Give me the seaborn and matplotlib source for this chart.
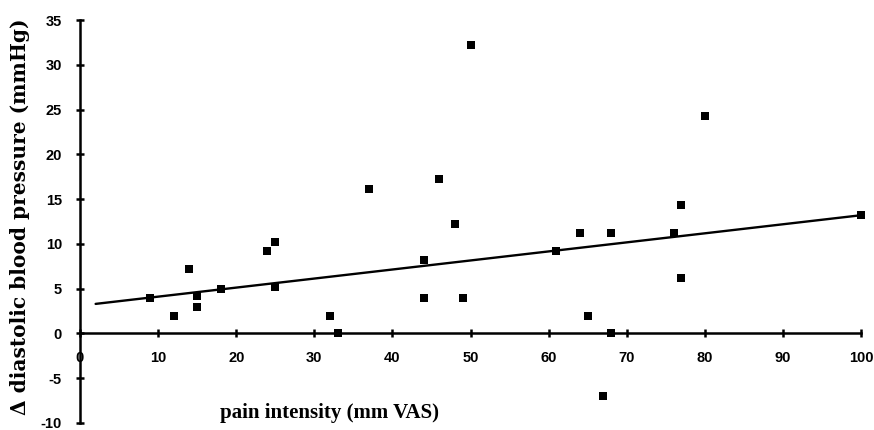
import matplotlib
matplotlib.use("Agg")
import matplotlib.pyplot as plt
import seaborn as sns
import pandas as pd

# data
pain = [9, 12, 14, 15, 15, 18, 24, 25, 25, 32, 33, 37, 44, 44, 46, 48, 49, 50,
        61, 64, 65, 67, 68, 68, 76, 77, 77, 80, 100]
dbp = [4, 2, 7.2, 4.2, 3, 5, 9.2, 10.2, 5.2, 2, 0, 16.1, 8.2, 4, 17.2, 12.2, 4, 32.2,
       9.2, 11.2, 2, -7, 11.2, 0, 11.2, 14.3, 6.2, 24.3, 13.2]
fit_x = [2, 100]
fit_y = [3.3, 13.2]
xticks = [0, 10, 20, 30, 40, 50, 60, 70, 80, 90, 100]
yticks = [-10, -5, 0, 5, 10, 15, 20, 25, 30, 35]

df = pd.DataFrame({"pain": pain, "dbp": dbp})
fit = pd.DataFrame({"x": fit_x, "y": fit_y})

sns.set_theme(style="ticks")
plt.rcParams['font.family'] = ['Liberation Sans', 'DejaVu Sans']
plt.rcParams['text.color'] = 'black'

fig = plt.figure(figsize=(8.74, 4.30), dpi=100)
ax = fig.add_axes([80/874, 1-423/430, (861-80)/874, 403/430])

sns.lineplot(data=fit, x="x", y="y", ax=ax, color="black", linewidth=1.7)
sns.scatterplot(data=df, x="pain", y="dbp", ax=ax, marker="s", s=26,
                color="black", edgecolor="black", linewidth=0)

ax.set_xlim(0, 100)
ax.set_ylim(-10, 35)
ax.spines['left'].set_position(('data', 0))
ax.spines['bottom'].set_position(('data', 0))
ax.spines['right'].set_visible(False)
ax.spines['top'].set_visible(False)
for s in ['left', 'bottom']:
    ax.spines[s].set_color('black')
    ax.spines[s].set_linewidth(1.8)
ax.set_xticks(xticks)
ax.set_yticks(yticks)
ax.set_xticklabels([str(t) for t in xticks])
ax.set_yticklabels([str(t) for t in yticks])
ax.tick_params(axis='both', which='major', bottom=True, left=True,
               direction='inout', length=6, width=1.8, colors='black',
               labelsize=10.5)
ax.tick_params(axis='x', pad=10)
ax.tick_params(axis='y', pad=10)
for lab in ax.get_xticklabels() + ax.get_yticklabels():
    lab.set_fontweight('bold')
for ln in ax.get_xticklines() + ax.get_yticklines():
    ln.set_clip_on(False)
for c in ax.collections:
    c.set_clip_on(False)

ax.set_xlabel("")
ax.set_ylabel("")
ax.text(32, -8.9, "pain intensity (mm VAS)", ha="center", va="center",
        fontsize=15, fontweight="bold", color="black",
        family=["Liberation Serif", "DejaVu Serif"])
fig.text(20/874, 1-217/430, "Δ diastolic blood pressure (mmHg)", rotation=90,
         ha="center", va="center", fontsize=14.5, fontweight="bold",
         color="black", family=["DejaVu Serif"])

fig.savefig("out.png", dpi=100)
